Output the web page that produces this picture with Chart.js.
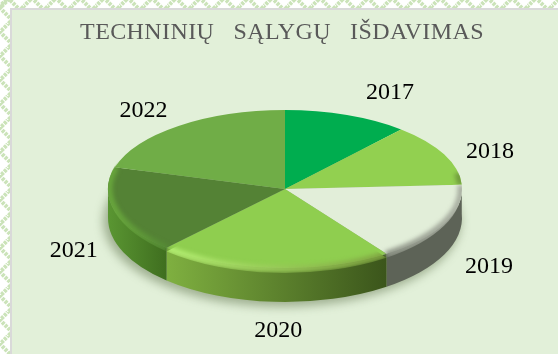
<!DOCTYPE html>
<html>
<head>
<meta charset="utf-8">
<script src="https://cdn.jsdelivr.net/npm/chart.js@4"></script>
<style>
html, body { margin: 0; padding: 0; width: 558px; height: 354px; overflow: hidden; background: #fff; }
#top, #left { position: absolute; left: 0; top: 0; }
#top { width: 558px; height: 8px; background-image: url("data:image/svg+xml,%3Csvg xmlns='http://www.w3.org/2000/svg' width='24' height='8'%3E%3Cpath d='M-4 10L8 -2L20 10L32 -2' fill='none' stroke='%23cbe3b9' stroke-width='4' stroke-dasharray='3 1'/%3E%3C/svg%3E"); }
#left { width: 10px; height: 354px; background-image: url("data:image/svg+xml,%3Csvg xmlns='http://www.w3.org/2000/svg' width='10' height='24'%3E%3Cpath d='M12 -4L0 8L12 20L0 32' fill='none' stroke='%23cbe3b9' stroke-width='4' stroke-dasharray='3 1'/%3E%3C/svg%3E"); }
#panel { position: absolute; left: 10px; top: 8px; width: 546px; height: 344px; border-left: 2px solid #d9d9d9; border-top: 2px solid #d9d9d9; background: #e2f0d9; }
canvas { position: absolute; left: 0; top: 0; }
</style>
</head>
<body>
<div id="top"></div>
<div id="left"></div>
<div id="panel"></div>
<div style="position:absolute;left:0;top:0;width:558px;height:354px">
<canvas id="myChart" width="558" height="354"></canvas>
</div>
<script>
var years = ['2017', '2018', '2019', '2020', '2021', '2022'];
var values = [41, 46, 58, 77, 64, 74];
var sliceColors = ['#00ad4f', '#92d050', '#e2eed9', '#8fce4f', '#548235', '#70ad47'];
// side wall colours, left to right
var sideLeft = ['#006b30', '#5c8232', '#5d6357', '#7fb040', '#5a9632', '#47702c'];
var sideRight = ['#006b30', '#5c8232', '#5d6357', '#3b551b', '#3f6e1f', '#47702c'];
var rimColors = ['#00ad4f', '#6f9a3c', '#8f9588', '#b4f072', '#68a63c', '#78b54d'];
var rimFade = ['#00ad4f', '#6f9a3c', '#a9afa2', '#7ea340', '#558a35', '#70ad47'];
// how far each year label sits from the rim of its slice
var labelNudge = [[43, -22], [46, -3], [45, 43], [4, 63], [-41, 40], [-35, -15]];

// where the flat disc goes on the page
var cx = 285, cy = 189, rx = 177, ry = 79, depth = 29, bulge = 5;

function wedge(ctx, a0, a1, extra) {
    ctx.beginPath();
    ctx.moveTo(cx, cy);
    ctx.ellipse(cx, cy, rx, ry + extra, 0, a0, a1);
    ctx.closePath();
}

var tiltPlugin = {
    id: 'tilt',
    beforeDraw: function(chart) {
        chart.ctx.letterSpacing = '0.4px';
    },
    beforeDatasetsDraw: function(chart) {
        var ctx = chart.ctx;
        var arcs = chart.getDatasetMeta(0).data;
        ctx.letterSpacing = '0px';

        // shadow on the panel
        ctx.save();
        ctx.filter = 'blur(5px)';
        ctx.fillStyle = 'rgba(80,100,60,0.45)';
        ctx.beginPath();
        ctx.ellipse(cx - 3, cy + depth + 3, rx + 2, ry + bulge + 2, 0, 0, Math.PI * 2);
        ctx.fill();
        ctx.restore();

        // side wall
        arcs.forEach(function(arc, i) {
            var a0 = Math.max(arc.startAngle, -0.06);
            var a1 = Math.min(arc.endAngle, Math.PI);
            if (a1 <= a0) return;
            var x0 = cx + rx * Math.cos(a1), x1 = cx + rx * Math.cos(a0);
            var g = ctx.createLinearGradient(x0, 0, x1, 0);
            g.addColorStop(0, sideLeft[i]);
            g.addColorStop(1, sideRight[i]);
            ctx.fillStyle = g;
            ctx.beginPath();
            ctx.ellipse(cx, cy, rx, ry, 0, a0, a1);
            ctx.ellipse(cx, cy + depth, rx, ry + bulge, 0, a1, a0, true);
            ctx.closePath();
            ctx.fill();
        });

        // top face, squashed from the library's circle
        var r = arcs[0].outerRadius;
        ctx.save();
        ctx.translate(cx, cy);
        ctx.scale(rx / r, ry / r);
        ctx.translate(-arcs[0].x, -arcs[0].y);
    },
    afterDatasetsDraw: function(chart) {
        var ctx = chart.ctx;
        var arcs = chart.getDatasetMeta(0).data;
        ctx.restore();

        // soft bevel round the front of the top face
        arcs.forEach(function(arc, i) {
            var a0 = Math.max(arc.startAngle, -0.2);
            var a1 = Math.min(arc.endAngle, Math.PI + 0.3);
            if (a1 <= a0) return;
            ctx.save();
            wedge(ctx, arc.startAngle, arc.endAngle, bulge);
            ctx.clip();
            var g = ctx.createLinearGradient(cx + rx * Math.cos(a1), 0, cx + rx * Math.cos(a0), 0);
            g.addColorStop(0, rimColors[i]);
            g.addColorStop(1, rimFade[i]);
            ctx.strokeStyle = g;
            ctx.lineWidth = 7;
            ctx.filter = 'blur(2px)';
            ctx.beginPath();
            ctx.ellipse(cx, cy, rx - 1, ry + 1, 0, a0, a1);
            ctx.stroke();
            ctx.restore();
        });

        // year labels
        ctx.fillStyle = '#000';
        ctx.font = '24px "Liberation Serif"';
        ctx.textAlign = 'center';
        ctx.textBaseline = 'middle';
        arcs.forEach(function(arc, i) {
            var mid = (arc.startAngle + arc.endAngle) / 2;
            var lx = cx + rx * Math.cos(mid) + labelNudge[i][0];
            var ly = cy + ry * Math.sin(mid) + labelNudge[i][1];
            ctx.fillText(years[i], lx, ly);
        });
    }
};

var ctx = document.getElementById('myChart');
var myChart = new Chart(ctx, {
    type: 'pie',
    data: {
        labels: years,
        datasets: [{
            data: values,
            backgroundColor: sliceColors,
            borderWidth: 0
        }]
    },
    options: {
        responsive: false,
        animation: false,
        layout: { padding: { left: 6 } },
        plugins: {
            legend: { display: false },
            tooltip: { enabled: false },
            title: {
                display: true,
                fullSize: false,
                text: 'TECHNINIŲ   SĄLYGŲ   IŠDAVIMAS',
                color: '#595959',
                font: { family: '"Liberation Serif"', size: 24, weight: 'normal' },
                padding: { top: 18, bottom: 8 }
            }
        }
    },
    plugins: [tiltPlugin]
});
</script>
</body>
</html>
